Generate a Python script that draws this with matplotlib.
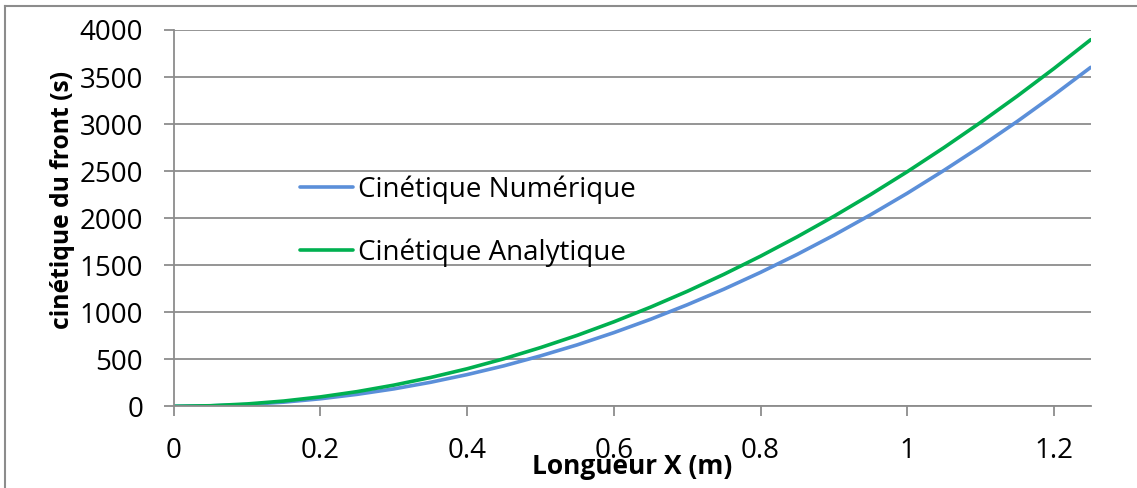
import matplotlib.pyplot as plt
from matplotlib.lines import Line2D

# Longueur X (m)
longueur = [0, 0.05, 0.1, 0.15, 0.2, 0.25, 0.3, 0.35, 0.4, 0.45, 0.5, 0.55, 0.6,
            0.65, 0.7, 0.75, 0.8, 0.85, 0.9, 0.95, 1.0, 1.05, 1.1, 1.15, 1.2, 1.25]

# temps d'arrivée du front (s)
cin_numerique = [0, 5, 19, 44, 80, 127, 185, 255, 337, 430, 536, 653, 783,
                 925, 1079, 1245, 1424, 1615, 1819, 2036, 2265, 2508, 2762, 3029, 3310, 3603]
cin_analytique = [0, 6, 25, 56, 100, 156, 225, 306, 399, 505, 624, 754, 898,
                  1054, 1222, 1403, 1596, 1802, 2020, 2251, 2494, 2750, 3018, 3298, 3591, 3897]

xticks = [0, 0.2, 0.4, 0.6, 0.8, 1, 1.2]
xtick_labels = ['0', '0.2', '0.4', '0.6', '0.8', '1', '1.2']
yticks = [0, 500, 1000, 1500, 2000, 2500, 3000, 3500, 4000]

plt.rcParams['font.family'] = ['Open Sans', 'DejaVu Sans']
gris = '#8c8c8c'

fig = plt.figure(figsize=(11.37, 4.88), dpi=100)
ax = fig.add_axes([173.7 / 1137, 1 - 406.3 / 488, 917 / 1137, 376.3 / 488])

ax.plot(longueur, cin_numerique, color='#5b8fd9', lw=2.6, label='Cinétique Numérique', solid_capstyle='round')
ax.plot(longueur, cin_analytique, color='#00b050', lw=2.6, label='Cinétique Analytique', solid_capstyle='round')

ax.set_xlim(0, 1.25)
ax.set_ylim(0, 4000)
ax.set_xticks(xticks)
ax.set_xticklabels(xtick_labels)
ax.set_yticks(yticks)
ax.yaxis.grid(True, color=gris, lw=1.3)
ax.set_axisbelow(True)

for s in ['top', 'right']:
    ax.spines[s].set_visible(False)
for s in ['left', 'bottom']:
    ax.spines[s].set_color(gris)
    ax.spines[s].set_linewidth(1.3)

ax.tick_params(axis='x', length=7, width=1.3, color=gris, pad=15, labelsize=20)
ax.tick_params(axis='y', length=7, width=1.3, color=gris, pad=15, labelsize=20)

ax.set_xlabel('Longueur X (m)', fontsize=19, fontweight='bold')
ax.xaxis.set_label_coords(0.5, -0.125)
ax.set_ylabel('cinétique du front (s)', fontsize=17.7, fontweight='bold')
ax.yaxis.set_label_coords(-0.108, 0.548)

ax.legend(loc='upper left', bbox_to_anchor=(300 / 1137, 1 - 175 / 488), bbox_transform=fig.transFigure,
          frameon=False, fontsize=20, handlelength=1.9, handletextpad=0.2, labelspacing=1.25,
          borderpad=0, borderaxespad=0)

# cadre extérieur
fig.add_artist(Line2D([5 / 1137, 5 / 1137], [0, 1 - 6 / 488], color=gris, lw=1.5, transform=fig.transFigure))
fig.add_artist(Line2D([5 / 1137, 1], [1 - 6 / 488, 1 - 6 / 488], color=gris, lw=1.5, transform=fig.transFigure))

fig.savefig('out.png', dpi=100)
